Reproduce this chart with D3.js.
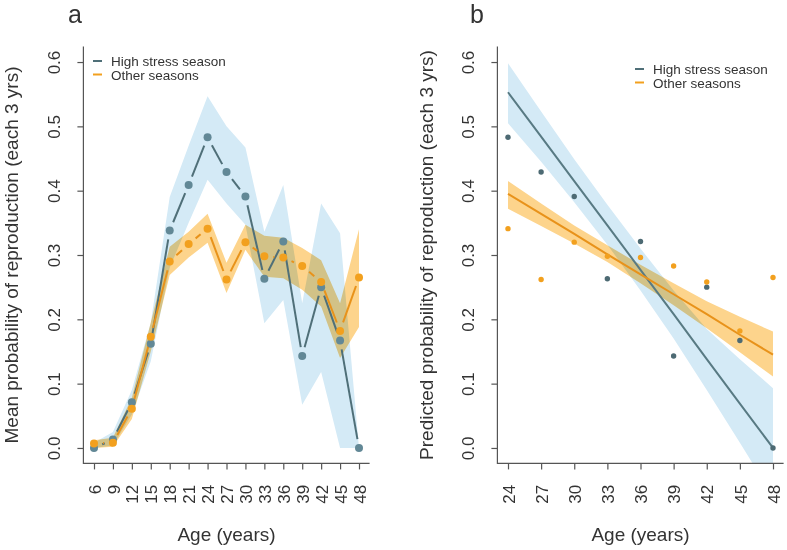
<!DOCTYPE html>
<html><head><meta charset="utf-8">
<script src="https://cdn.jsdelivr.net/npm/d3@7"></script>
<style>
html,body{margin:0;padding:0;background:#fff;}
text{font-family:"Liberation Sans",Arial,sans-serif;fill:#333;}
</style></head>
<body><svg id="c" width="787" height="550"></svg>
<script>
// ---- data ----
const agesA = [6,9,12,15,18,21,24,27,30,33,36,39,42,45,48];
const highMean = [0.000,0.013,0.071,0.162,0.338,0.409,0.483,0.429,0.391,0.263,0.321,0.143,0.250,0.167,0.000];
const highLo   = [0.000,0.004,0.052,0.135,0.280,0.350,0.417,0.380,0.347,0.194,0.230,0.067,0.118,0.000,0.000];
const highHi   = [0.008,0.025,0.090,0.195,0.390,0.470,0.547,0.500,0.467,0.336,0.409,0.225,0.380,0.334,0.000];
const otherMean= [0.007,0.008,0.061,0.173,0.290,0.317,0.341,0.262,0.320,0.298,0.296,0.283,0.258,0.182,0.265];
const otherLo  = [0.000,0.002,0.045,0.150,0.269,0.296,0.319,0.241,0.308,0.266,0.264,0.246,0.220,0.140,0.188];
const otherHi  = [0.012,0.016,0.078,0.195,0.313,0.336,0.364,0.288,0.347,0.330,0.327,0.311,0.292,0.225,0.340];

const agesB = [24,27,30,33,36,39,42,45,48];
const highPts  = [0.483,0.429,0.391,0.263,0.321,0.143,0.250,0.167,0.000];
const otherPts = [0.341,0.262,0.320,0.298,0.296,0.283,0.258,0.182,0.265];
const highFit   = [0.553,0.484,0.415,0.346,0.277,0.208,0.138,0.069,0.000];
const highFitLo = [0.505,0.445,0.382,0.316,0.245,0.170,0.090,0.008,-0.075];
const highFitHi = [0.598,0.523,0.449,0.378,0.310,0.245,0.185,0.138,0.093];
const otherFit   = [0.395,0.364,0.333,0.301,0.270,0.239,0.208,0.176,0.145];
const otherFitLo = [0.372,0.345,0.318,0.289,0.256,0.222,0.186,0.149,0.111];
const otherFitHi = [0.415,0.380,0.346,0.315,0.285,0.256,0.228,0.204,0.181];

const yTicks = [0.0,0.1,0.2,0.3,0.4,0.5,0.6];
const legendLabels = ["High stress season","Other seasons"];
const titleA = "Mean probability of reproduction (each 3 yrs)";
const titleB = "Predicted probability of reproduction (each 3 yrs)";
const xTitle = "Age (years)";

// ---- styles ----
const C = {hiLine:"#4f6f78", hiPt:"#628896", hiPtB:"#4d6a73", hiBand:"rgb(212,234,246)",
           orLine:"#e8921a", orPt:"#f2a01e", orBand:"rgb(253,212,140)", axis:"#555"};

const svg = d3.select("#c");
const y = d3.scaleLinear().domain([-0.024,0.624]).range([463.4,46.6]);
const xA = d3.scaleLinear().domain([4.32,49.68]).range([83.4,369.6]);
const xB = d3.scaleLinear().domain([23.04,48.96]).range([497.4,783.6]);

function clip(id, x){
  svg.append("clipPath").attr("id",id).append("rect")
    .attr("x",x.range()[0]).attr("y",y.range()[1])
    .attr("width",x.range()[1]-x.range()[0]).attr("height",y.range()[0]-y.range()[1]);
}
clip("ca",xA); clip("cb",xB);

function band(g, xs, x, lo, hi, fill, blend){
  const a = d3.area().x((d,i)=>x(xs[i])).y0((d,i)=>y(lo[i])).y1((d,i)=>y(hi[i]));
  const p = g.append("path").attr("d",a(xs)).attr("fill",fill);
  if(blend) p.style("mix-blend-mode","multiply");
}
function gapLine(g, xs, x, vals, color, gap){
  for(let i=0;i<xs.length-1;i++){
    const x1=x(xs[i]), y1=y(vals[i]), x2=x(xs[i+1]), y2=y(vals[i+1]);
    const L=Math.hypot(x2-x1,y2-y1);
    if(L<=2*gap) continue;
    const ux=(x2-x1)/L, uy=(y2-y1)/L;
    g.append("line").attr("x1",x1+ux*gap).attr("y1",y1+uy*gap)
      .attr("x2",x2-ux*gap).attr("y2",y2-uy*gap)
      .attr("stroke",color).attr("stroke-width",2);
  }
}
function points(g, xs, x, vals, color, r){
  g.selectAll(null).data(vals).enter().append("circle")
    .attr("cx",(d,i)=>x(xs[i])).attr("cy",d=>y(d)).attr("r",r).attr("fill",color);
}
function axes(x, xt, yTitleX, title, labelX, panelLabel){
  const g = svg.append("g");
  const ax = g.append("g").attr("transform",`translate(0,${y.range()[0]})`)
    .call(d3.axisBottom(x).tickValues(xt).tickSize(6).tickFormat(d=>String(d)));
  ax.select(".domain").remove();
  ax.selectAll(".tick line").attr("stroke",C.axis).attr("stroke-width",1.2);
  ax.selectAll(".tick text").attr("transform","rotate(-90)").attr("x",-21.5).attr("y",0)
    .attr("dy","0.36em").style("text-anchor","end").style("font-size","17px")
    .style("font-family","'Liberation Sans',Arial,sans-serif").attr("fill","#333");
  const ay = g.append("g").attr("transform",`translate(${x.range()[0]},0)`)
    .call(d3.axisLeft(y).tickValues(yTicks).tickSize(6).tickFormat(d3.format(".1f")));
  ay.select(".domain").remove();
  ay.selectAll(".tick line").attr("stroke",C.axis).attr("stroke-width",1.2);
  ay.selectAll(".tick text").attr("transform","rotate(-90)").attr("x",0).attr("y",-23.5)
    .attr("dy",0).style("text-anchor","middle").style("font-size","17px")
    .style("font-family","'Liberation Sans',Arial,sans-serif").attr("fill","#333");
  g.append("path").attr("d",`M${x.range()[0]},${y.range()[1]}V${y.range()[0]}H${x.range()[1]}`)
    .attr("fill","none").attr("stroke",C.axis).attr("stroke-width",1.2);
  g.append("text").attr("transform",`translate(${yTitleX},255) rotate(-90)`)
    .attr("text-anchor","middle").style("font-size","19px").text(title);
  g.append("text").attr("x",(x.range()[0]+x.range()[1])/2).attr("y",541)
    .attr("text-anchor","middle").style("font-size","19px").text(xTitle);
  g.append("text").attr("x",labelX).attr("y",23).style("font-size","25px").text(panelLabel);
}
function legend(x0, y0){
  const g = svg.append("g");
  [C.hiLine, C.orPt].forEach((c,i)=>{
    g.append("line").attr("x1",x0).attr("x2",x0+9).attr("y1",y0-5+i*13.5).attr("y2",y0-5+i*13.5)
      .attr("stroke",c).attr("stroke-width",2);
    g.append("text").attr("x",x0+18).attr("y",y0+i*13.5).style("font-size","13.5px").text(legendLabels[i]);
  });
}

// ---- panel a ----
const ga = svg.append("g").attr("clip-path","url(#ca)");
band(ga, agesA, xA, highLo, highHi, C.hiBand, true);
band(ga, agesA, xA, otherLo, otherHi, C.orBand, true);
gapLine(ga, agesA, xA, highMean, C.hiLine, 9);
gapLine(ga, agesA, xA, otherMean, C.orLine, 9);
points(ga, agesA, xA, highMean, C.hiPt, 4);
points(ga, agesA, xA, otherMean, C.orPt, 4);
axes(xA, agesA, 18, titleA, 68, "a");
legend(93, 66);

// ---- panel b ----
const gb = svg.append("g").attr("clip-path","url(#cb)");
band(gb, agesB, xB, highFitLo, highFitHi, C.hiBand, true);
band(gb, agesB, xB, otherFitLo, otherFitHi, C.orBand, true);
const ln = (x, vals) => d3.line().x((d,i)=>x(agesB[i])).y((d,i)=>y(vals[i]))(agesB);
gb.append("path").attr("d",ln(xB,highFit)).attr("fill","none").attr("stroke","#587a83").attr("stroke-width",2);
gb.append("path").attr("d",ln(xB,otherFit)).attr("fill","none").attr("stroke",C.orLine).attr("stroke-width",2);
points(gb, agesB, xB, highPts, C.hiPtB, 2.7);
points(gb, agesB, xB, otherPts, C.orPt, 2.7);
axes(xB, agesB, 433, titleB, 470, "b");
legend(635, 74);
</script></body></html>
